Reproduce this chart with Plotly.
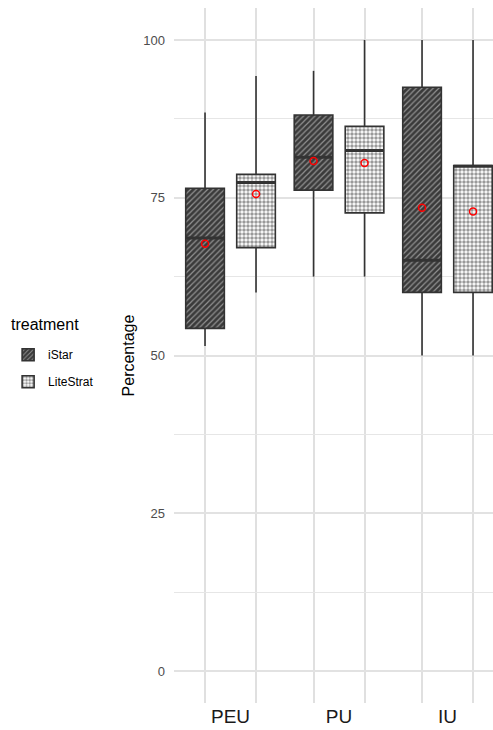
import plotly.graph_objects as go

# ---- data -------------------------------------------------------------
groups = ["PEU", "PU", "IU"]
treatments = ["iStar", "LiteStrat"]

# five-number summaries per group (order follows `groups`)
istar_low = [51.5, 62.5, 50.0]
istar_q1 = [54.3, 76.2, 60.0]
istar_median = [68.6, 81.4, 65.1]
istar_q3 = [76.5, 88.1, 92.5]
istar_high = [88.5, 95.1, 100.0]
istar_mean = [67.7, 80.8, 73.4]

lite_low = [60.0, 62.5, 50.0]
lite_q1 = [67.1, 72.6, 60.0]
lite_median = [77.4, 82.5, 80.0]
lite_q3 = [78.7, 86.3, 80.1]
lite_high = [94.3, 100.0, 100.0]
lite_mean = [75.6, 80.5, 72.8]

y_ticks = [0, 25, 50, 75, 100]
y_minor = [12.5, 37.5, 62.5, 87.5]

# ---- layout helpers ---------------------------------------------------
DODGE = 0.235
BOX_W = 0.356
DARK = "#333333"
FONT = "Liberation Sans, Arial, sans-serif"

centers = [i + 1 for i in range(len(groups))]

series = {
    "iStar": dict(low=istar_low, q1=istar_q1, med=istar_median, q3=istar_q3,
                  high=istar_high, mean=istar_mean, off=-DODGE,
                  pattern=dict(shape="/", fgcolor="#e8e8e8", bgcolor="#3a3a3a",
                               size=4, solidity=0.3)),
    "LiteStrat": dict(low=lite_low, q1=lite_q1, med=lite_median, q3=lite_q3,
                      high=lite_high, mean=lite_mean, off=DODGE,
                      pattern=dict(shape=".", fgcolor=DARK, bgcolor="white",
                                   size=4, solidity=0.6)),
}

fig = go.Figure()
box_x_all = []

for name in treatments:
    s = series[name]
    xs = [c + s["off"] for c in centers]
    box_x_all += xs

    # whiskers (drawn first so the box sits on top)
    wx, wy = [], []
    for x, lo, q1, q3, hi in zip(xs, s["low"], s["q1"], s["q3"], s["high"]):
        wx += [x, x, None, x, x, None]
        wy += [lo, q1, None, q3, hi, None]
    fig.add_trace(go.Scatter(x=wx, y=wy, mode="lines",
                             line=dict(color=DARK, width=1.6),
                             showlegend=False, hoverinfo="skip"))

    # box body with fill pattern
    fig.add_trace(go.Bar(
        x=xs, y=[q3 - q1 for q1, q3 in zip(s["q1"], s["q3"])], base=s["q1"],
        width=BOX_W, name=name, legendgroup=name,
        marker=dict(color=s["pattern"]["bgcolor"], pattern=s["pattern"],
                    line=dict(color=DARK, width=1.6)),
    ))

    # median bar
    mx, my = [], []
    for x, m in zip(xs, s["med"]):
        mx += [x - BOX_W / 2, x + BOX_W / 2, None]
        my += [m, m, None]
    fig.add_trace(go.Scatter(x=mx, y=my, mode="lines",
                             line=dict(color=DARK, width=3),
                             showlegend=False, hoverinfo="skip"))

    # mean marker
    fig.add_trace(go.Scatter(x=xs, y=s["mean"], mode="markers",
                             marker=dict(symbol="circle-open", size=7,
                                         color="red", line=dict(width=1.5)),
                             showlegend=False, hoverinfo="skip"))

fig.update_layout(
    width=493, height=730,
    margin=dict(l=174, r=0, t=8, b=27, autoexpand=False),
    paper_bgcolor="white", plot_bgcolor="white",
    barmode="overlay",
    font=dict(family=FONT, color="black"),
    legend=dict(
        font=dict(size=12, color="black"),
        x=-0.52, xanchor="left", y=0.522, yanchor="top",
        traceorder="grouped", tracegroupgap=8,
        bgcolor="rgba(0,0,0,0)",
    ),
    annotations=[dict(
        text="treatment", xref="paper", yref="paper",
        x=-0.516, xanchor="left", y=0.544, yanchor="middle",
        showarrow=False, font=dict(size=16, color="black"),
    )],
    xaxis=dict(
        range=[0.479, 3.419], automargin=False,
        tickvals=centers, ticktext=groups,
        tickfont=dict(size=19, color="#1a1a1a"),
        showgrid=False, zeroline=False, showline=False, ticks="",
        ticklabelstandoff=0,
        minor=dict(tickvals=box_x_all, showgrid=True,
                   gridcolor="#e0e0e0", gridwidth=1.5, ticks=""),
    ),
    yaxis=dict(
        range=[-5.06, 105.06], automargin=False,
        tickvals=y_ticks,
        tickfont=dict(size=13, color="#4d4d4d"),
        showgrid=True, gridcolor="#e2e2e2", gridwidth=1.6,
        zeroline=False, showline=False, ticks="",
        ticklabelstandoff=8,
        title=dict(text="Percentage", font=dict(size=16, color="black"),
                   standoff=4),
        minor=dict(tickvals=y_minor, showgrid=True,
                   gridcolor="#e6e6e6", gridwidth=1, ticks=""),
    ),
)

fig.write_html("out.html")
